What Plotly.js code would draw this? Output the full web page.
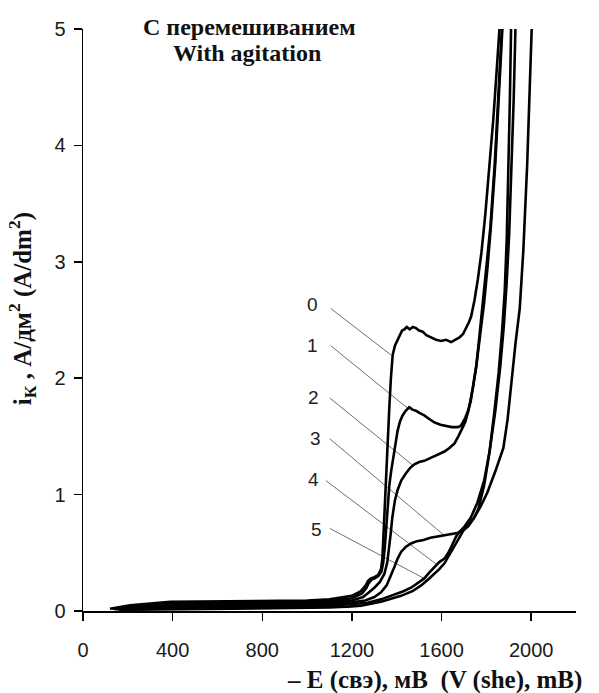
<!DOCTYPE html>
<html>
<head>
<meta charset="utf-8">
<script src="https://cdn.plot.ly/plotly-3.0.1.min.js"></script>
<style>
  html, body { margin: 0; padding: 0; background: #fff; }
  #chart { width: 599px; height: 693px; }
</style>
</head>
<body>
<div id="chart"></div>
<script>
// Cathodic polarization curves, potential -E (mV, SHE) vs current density (A/dm²)
const curveNames = ['0', '1', '2', '3', '4', '5'];

const e0 = [120, 210, 390, 700, 1000, 1100, 1200, 1240, 1262, 1272, 1285, 1300, 1318, 1330, 1336, 1342, 1348, 1354, 1360, 1367, 1374, 1382, 1392, 1404, 1414, 1424, 1434, 1445, 1458, 1472, 1486, 1500, 1516, 1532, 1553, 1575, 1598, 1620, 1643, 1662, 1680, 1696, 1710, 1722, 1732, 1747, 1762, 1778, 1795, 1815, 1832, 1848, 1862];
const i0 = [0.02, 0.05, 0.08, 0.085, 0.09, 0.1, 0.13, 0.17, 0.22, 0.26, 0.28, 0.29, 0.31, 0.36, 0.45, 0.7, 0.98, 1.22, 1.45, 1.75, 2.0, 2.2, 2.28, 2.33, 2.37, 2.41, 2.42, 2.44, 2.42, 2.44, 2.43, 2.41, 2.40, 2.37, 2.35, 2.33, 2.32, 2.33, 2.31, 2.33, 2.35, 2.38, 2.43, 2.48, 2.53, 2.67, 2.85, 3.08, 3.4, 3.83, 4.25, 4.7, 5.1];

const e1 = [130, 220, 400, 800, 1100, 1200, 1245, 1265, 1275, 1288, 1302, 1318, 1332, 1340, 1347, 1353, 1360, 1367, 1375, 1382, 1390, 1397, 1404, 1415, 1426, 1440, 1456, 1470, 1486, 1503, 1523, 1545, 1568, 1595, 1620, 1645, 1673, 1685, 1695, 1706, 1718, 1730, 1740, 1755, 1770, 1785, 1800, 1818, 1837, 1850, 1862, 1872];
const i1 = [0.02, 0.04, 0.065, 0.07, 0.085, 0.11, 0.15, 0.2, 0.24, 0.27, 0.28, 0.3, 0.34, 0.42, 0.55, 0.72, 0.92, 1.08, 1.2, 1.29, 1.4, 1.48, 1.55, 1.63, 1.68, 1.72, 1.75, 1.73, 1.72, 1.70, 1.68, 1.65, 1.62, 1.60, 1.59, 1.58, 1.58, 1.59, 1.62, 1.66, 1.72, 1.8, 1.92, 2.1, 2.38, 2.67, 2.95, 3.3, 3.83, 4.3, 4.75, 5.1];

const e2 = [140, 400, 800, 1100, 1200, 1250, 1275, 1300, 1325, 1345, 1358, 1367, 1374, 1380, 1392, 1404, 1420, 1440, 1460, 1479, 1500, 1523, 1545, 1568, 1590, 1613, 1635, 1658, 1675, 1690, 1705, 1720, 1740, 1756, 1772, 1790, 1805, 1820, 1840, 1853, 1864, 1874];
const i2 = [0.015, 0.05, 0.055, 0.07, 0.09, 0.12, 0.16, 0.2, 0.25, 0.32, 0.42, 0.55, 0.68, 0.8, 0.95, 1.04, 1.12, 1.18, 1.23, 1.26, 1.28, 1.29, 1.31, 1.33, 1.35, 1.37, 1.40, 1.44, 1.5, 1.56, 1.62, 1.72, 1.92, 2.12, 2.38, 2.65, 2.95, 3.3, 3.85, 4.3, 4.75, 5.1];

const e3 = [150, 400, 800, 1100, 1200, 1260, 1300, 1330, 1355, 1374, 1390, 1404, 1420, 1440, 1464, 1490, 1520, 1550, 1580, 1610, 1643, 1670, 1695, 1720, 1745, 1765, 1790, 1813, 1835, 1855, 1870, 1882, 1891, 1899, 1905, 1911];
const i3 = [0.015, 0.035, 0.045, 0.06, 0.075, 0.09, 0.12, 0.16, 0.22, 0.3, 0.38, 0.45, 0.51, 0.55, 0.58, 0.6, 0.61, 0.63, 0.64, 0.65, 0.66, 0.67, 0.69, 0.73, 0.8, 0.88, 1.08, 1.35, 1.7, 2.05, 2.4, 2.75, 3.2, 3.83, 4.4, 5.1];

const e4 = [160, 400, 800, 1100, 1200, 1270, 1330, 1389, 1430, 1464, 1495, 1523, 1545, 1568, 1590, 1613, 1630, 1643, 1655, 1665, 1680, 1700, 1730, 1760, 1790, 1815, 1840, 1862, 1878, 1890, 1902, 1913, 1922, 1931];
const i4 = [0.012, 0.025, 0.035, 0.045, 0.06, 0.07, 0.1, 0.14, 0.17, 0.2, 0.24, 0.28, 0.33, 0.38, 0.42, 0.45, 0.5, 0.55, 0.6, 0.64, 0.68, 0.72, 0.8, 0.93, 1.12, 1.38, 1.72, 2.1, 2.45, 2.8, 3.25, 3.83, 4.4, 5.1];

const e5 = [170, 400, 800, 1100, 1200, 1240, 1330, 1419, 1470, 1509, 1545, 1568, 1590, 1613, 1640, 1658, 1680, 1700, 1720, 1745, 1775, 1805, 1840, 1876, 1895, 1912, 1930, 1949, 1965, 1982, 1993, 2004];
const i5 = [0.01, 0.015, 0.02, 0.03, 0.04, 0.045, 0.08, 0.13, 0.17, 0.22, 0.28, 0.32, 0.36, 0.41, 0.5, 0.56, 0.64, 0.7, 0.74, 0.8, 0.9, 1.02, 1.2, 1.4, 1.65, 1.98, 2.3, 2.6, 3.1, 3.83, 4.4, 5.1];

// Curve label positions and leader lines (label end -> point on curve)
const labelE = [1025, 1025, 1029, 1038, 1029, 1043];
const labelI = [2.63, 2.28, 1.83, 1.48, 1.13, 0.70];
const leaderFromE = [1105, 1105, 1101, 1101, 1084, 1101];
const leaderFromI = [2.60, 2.28, 1.83, 1.48, 1.12, 0.71];
const leaderToE = [1374, 1450, 1473, 1612, 1585, 1522];
const leaderToI = [2.20, 1.74, 1.25, 0.65, 0.39, 0.28];

const xTicks = [0, 400, 800, 1200, 1600, 2000];
const yTicks = [0, 1, 2, 3, 4, 5];

const curvesE = [e0, e1, e2, e3, e4, e5];
const curvesI = [i0, i1, i2, i3, i4, i5];

const traces = [];

// thin gray leader lines
curveNames.forEach((name, k) => {
  traces.push({
    x: [leaderFromE[k], leaderToE[k]],
    y: [leaderFromI[k], leaderToI[k]],
    mode: 'lines',
    line: { color: '#707070', width: 1 },
    hoverinfo: 'skip',
    showlegend: false
  });
});

curveNames.forEach((name, k) => {
  traces.push({
    x: curvesE[k],
    y: curvesI[k],
    name: name,
    mode: 'lines',
    line: { color: '#000', width: 2.6, shape: 'linear' },
    showlegend: false
  });
});

const serif = 'Liberation Serif, Times New Roman, serif';
const sans = 'Liberation Sans, Arial, sans-serif';

const annotations = curveNames.map((name, k) => ({
  x: labelE[k], y: labelI[k], xref: 'x', yref: 'y',
  text: name, showarrow: false,
  font: { family: sans, size: 19, color: '#222' },
  xanchor: 'center', yanchor: 'middle'
}));

const titleFont = { family: serif, size: 24, color: '#111', weight: 'bold' };

annotations.push({
  xref: 'paper', yref: 'paper', x: 0.338, y: 1.004,
  text: 'С перемешиванием',
  showarrow: false, font: titleFont,
  xanchor: 'center', yanchor: 'middle'
});
annotations.push({
  xref: 'paper', yref: 'paper', x: 0.333, y: 0.958,
  text: 'With agitation',
  showarrow: false, font: titleFont,
  xanchor: 'center', yanchor: 'middle'
});

annotations.push({
  xref: 'paper', yref: 'paper', x: -0.122, y: 0.52,
  text: 'i<sub>К</sub> , А/дм<sup>2</sup> (A/dm<sup>2</sup>)',
  textangle: -90, showarrow: false,
  font: { family: serif, size: 25, color: '#111', weight: 'bold' },
  xanchor: 'center', yanchor: 'middle'
});

annotations.push({
  xref: 'paper', yref: 'paper', x: 0.41, y: -0.118,
  text: '– E (свэ), мВ&nbsp;&nbsp;(V (she), mB)',
  showarrow: false,
  font: { family: serif, size: 25, color: '#111', weight: 'bold' },
  xanchor: 'left', yanchor: 'middle'
});

const layout = {
  width: 599, height: 693,
  margin: { l: 83, r: 23, t: 29, b: 82 },
  paper_bgcolor: '#fff', plot_bgcolor: '#fff',
  showlegend: false,
  xaxis: {
    range: [0, 2200], tickvals: xTicks, ticktext: xTicks.map(String),
    showgrid: false, zeroline: false, showline: true, linecolor: '#000', linewidth: 1.5,
    ticks: 'outside', ticklen: 8, tickwidth: 1.5, tickcolor: '#000',
    ticklabelstandoff: 12,
    tickfont: { family: sans, size: 20, color: '#1a1a1a' }
  },
  yaxis: {
    range: [0, 5], tickvals: yTicks, ticktext: yTicks.map(String),
    showgrid: false, zeroline: false, showline: true, linecolor: '#000', linewidth: 1.5,
    ticks: 'outside', ticklen: 8, tickwidth: 1.5, tickcolor: '#000',
    ticklabelstandoff: 4,
    tickfont: { family: sans, size: 20, color: '#1a1a1a' }
  },
  annotations: annotations
};

Plotly.newPlot('chart', traces, layout, { staticPlot: true, displayModeBar: false });
</script>
</body>
</html>
